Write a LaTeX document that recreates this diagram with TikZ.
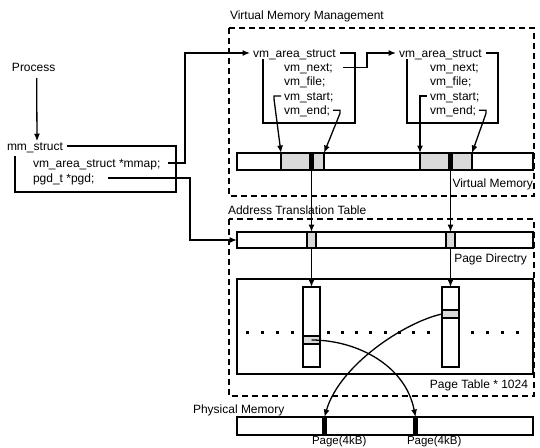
\documentclass[tikz,border=0pt]{standalone}
\usepackage{fontspec}
\setmainfont{Liberation Sans}
\usetikzlibrary{arrows.meta}
\begin{document}
\begin{tikzpicture}[x=1pt,y=-1pt,
  txt/.style={font=\fontsize{12}{14}\selectfont, inner sep=0pt, outer sep=0pt, anchor=base west},
  txtr/.style={txt, anchor=base east},
  ln/.style={line width=1.3pt},
  arr/.style={ln, -{Latex[length=7.5pt,width=6pt]}},
  dbox/.style={line width=1.3pt, dash pattern=on 6pt off 4pt},
  bx/.style={draw, line width=1.3pt, inner sep=0pt, outer sep=0pt, anchor=north west, rectangle},
  cell/.style={bx, fill=gray!30},
  blk/.style={bx, fill=black},
  dotc/.style={fill=black, inner sep=0pt, outer sep=0pt, minimum size=3pt, rectangle}
]
\useasboundingbox (0,0) rectangle (540,447);

% dashed frames
\draw[dbox] (229,28) rectangle (534,196);
\draw[dbox] (229,219) rectangle (534,396);

% left texts
\node[txt] (proc) at (12,71) {Process};
\node[txt] (mm) at (7,150) {mm\_struct};
\node[txt] (mmap) at (33,167) {vm\_area\_struct *mmap;};
\node[txt] (pgd) at (33,182) {pgd\_t *pgd;};

% frame labels
\node[txt] (vmm) at (230,19) {Virtual Memory Management};
\node[txtr] (vml) at (533,187) {Virtual Memory};
\node[txt] (att) at (228,214) {Address Translation Table};
\node[txtr] (pdl) at (527,262) {Page Directry};
\node[txtr] (ptl) at (528,388) {Page Table * 1024};
\node[txt] (phl) at (193,413) {Physical Memory};
\node[txt, font=\fontsize{11.5}{13}\selectfont] (pg1) at (312,444.5) {Page(4kB)};
\node[txt, font=\fontsize{11.5}{13}\selectfont] (pg2) at (407,444.5) {Page(4kB)};

% struct 1
\node[txt] (vs1) at (253,57) {vm\_area\_struct};
\node[txt] (nx1) at (284,71.3) {vm\_next;};
\node[txt] (fl1) at (284,85.6) {vm\_file;};
\node[txt] (st1) at (284,100) {vm\_start;};
\node[txt] (en1) at (284,114.3) {vm\_end;};
% struct 2
\node[txt] (vs2) at (399,57) {vm\_area\_struct};
\node[txt] (nx2) at (430,71.3) {vm\_next;};
\node[txt] (fl2) at (430,85.6) {vm\_file;};
\node[txt] (st2) at (430,100) {vm\_start;};
\node[txt] (en2) at (430,114.3) {vm\_end;};

% virtual memory bar
\node[bx, minimum width=296pt, minimum height=17pt] (vmbar) at (237,153) {};
\node[cell, minimum width=43pt, minimum height=17pt] (vc1) at (281,153) {};
\node[blk, minimum width=3pt, minimum height=17pt] (vb1) at (310,153) {};
\node[cell, minimum width=52pt, minimum height=17pt] (vc2) at (420,153) {};
\node[blk, minimum width=3pt, minimum height=17pt] (vb2) at (449,153) {};

% page directory
\node[bx, minimum width=296pt, minimum height=16pt] (pd) at (237,232) {};
\node[cell, minimum width=9pt, minimum height=16pt] (pd1) at (307,232) {};
\node[cell, minimum width=9pt, minimum height=16pt] (pd2) at (446,232) {};

% page table
\node[bx, minimum width=296pt, minimum height=95pt] (pt) at (237,279) {};
\foreach \x [count=\i] in {247,262,277,292,328,342.3,356.6,370.9,385.2,399.5,413.8,428,472,487,502,517}
  \node[dotc] (dot\i) at (\x,332) {};
\node[bx, fill=white, minimum width=17pt, minimum height=80pt] (col1) at (303,287) {};
\node[cell, minimum width=17pt, minimum height=8pt] (cc1) at (303,336) {};
\node[bx, fill=white, minimum width=17pt, minimum height=80pt] (col2) at (442,287) {};
\node[cell, minimum width=17pt, minimum height=8pt] (cc2) at (442,310) {};

% physical memory
\node[bx, minimum width=296pt, minimum height=18pt] (pm) at (237,417) {};
\node[blk, minimum width=3pt, minimum height=18pt] (pb1) at (323,417) {};
\node[blk, minimum width=3pt, minimum height=18pt] (pb2) at (414,417) {};

% left connectors
\draw[arr] ([xshift=3pt,yshift=-7pt]proc.base) -- ([xshift=2pt,yshift=1pt]mm.north);
\draw[ln] ([xshift=4pt,yshift=4pt]mm.base east) -| (176,192) -| (15,156);
\draw[arr] ([xshift=135pt,yshift=4pt]mmap.base west) -| (185,53) -- ([xshift=-3pt,yshift=4pt]vs1.base west);
\draw[arr] ([xshift=75pt,yshift=4pt]pgd.base west) -| (190,240) -- (pd.west);

% struct frames
\draw[ln] ([xshift=87pt,yshift=4pt]vs1.base west) -| (355,123) -| (263,59);
\draw[ln] ([xshift=87pt,yshift=4pt]vs2.base west) -| (498,123) -| (407,59);
\draw[arr] ([xshift=59pt,yshift=4pt]nx1.base west) -| (367,53) -- ([xshift=-3pt,yshift=4pt]vs2.base west);

% hooks to virtual memory
\draw[arr] ([xshift=-3pt,yshift=4pt]st1.base west) -- ++(-7pt,0) -- ++(0,-3pt) -- (vc1.north west);
\draw[arr] ([xshift=3pt,yshift=4pt]en1.base east) -- ++(7pt,0) -- ++(0,-3pt) -- (vc1.north east);
\draw[arr] ([xshift=-3pt,yshift=4pt]st2.base west) -- ++(-7pt,0) -- ++(0,-3pt) -- (vc2.north west);
\draw[arr] ([xshift=3pt,yshift=4pt]en2.base east) -- ++(7pt,0) -- ++(0,-3pt) -- (vc2.north east);

% translation arrows
\draw[arr] (vb1.south) -- (pd1.north);
\draw[arr] (vb2.south) -- (pd2.north);
\draw[arr] (pd1.south) -- (col1.north);
\draw[arr] (pd2.south) -- (col2.north);

% curves to physical pages
\draw[arr] (cc1.center) .. controls +(45,0) and +(-10,-52) .. (pb2.north);
\draw[arr] (cc2.west) .. controls +(-37,8) and +(15,-52) .. (pb1.north);
\end{tikzpicture}
\end{document}
